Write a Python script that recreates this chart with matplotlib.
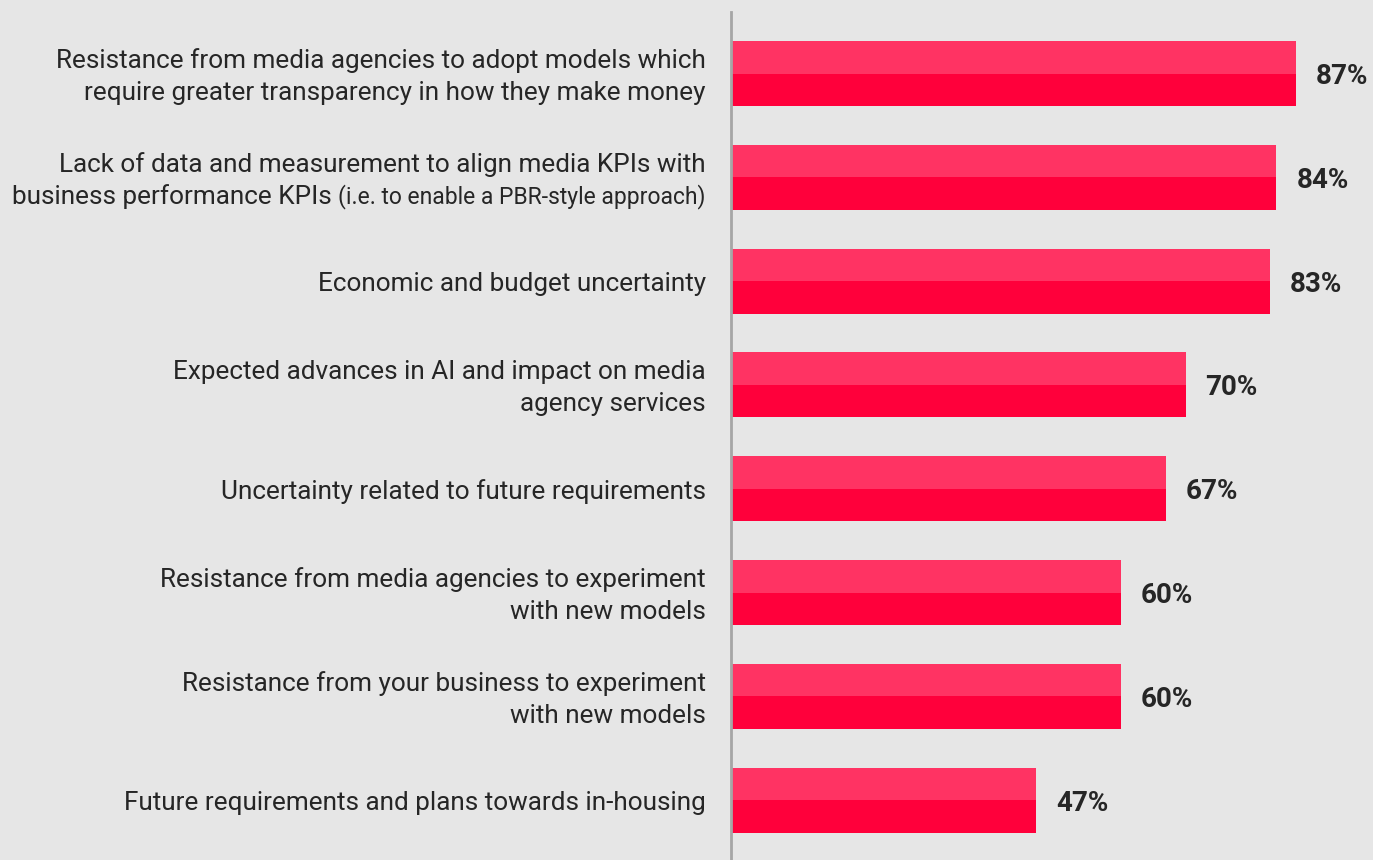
import matplotlib.pyplot as plt

# survey results: share of respondents citing each barrier
labels = [
    "Resistance from media agencies to adopt models which\nrequire greater transparency in how they make money",
    "Lack of data and measurement to align media KPIs with\nbusiness performance KPIs",
    "Economic and budget uncertainty",
    "Expected advances in AI and impact on media\nagency services",
    "Uncertainty related to future requirements",
    "Resistance from media agencies to experiment\nwith new models",
    "Resistance from your business to experiment\nwith new models",
    "Future requirements and plans towards in-housing",
]
notes = ["", "(i.e. to enable a PBR-style approach)", "", "", "", "", "", ""]
values = [87, 84, 83, 70, 67, 60, 60, 47]

bg = "#e6e6e6"
light = "#ff3363"
dark = "#ff003b"
text_col = "#262626"
font = "Roboto"
fs = 18.8

W, H = 1373, 860
fig = plt.figure(figsize=(W / 100, H / 100), dpi=100, facecolor=bg)
ax = fig.add_axes([731 / W, 0, (W - 731) / W, (H - 12) / H])
ax.set_facecolor(bg)

ypos = list(range(len(values)))
half = 0.313
ax.barh([y - half / 2 for y in ypos], values, height=half, color=light, linewidth=0)
ax.barh([y + half / 2 for y in ypos], values, height=half, color=dark, linewidth=0)

ax.set_xlim(0, (W - 731) / 6.494)
ax.set_ylim(7.577, -0.5925)

for s in ["top", "right", "bottom"]:
    ax.spines[s].set_visible(False)
ax.spines["left"].set_color("#a6a6a6")
ax.spines["left"].set_linewidth(2)
ax.set_xticks([])
ax.set_yticks([])

# value labels at the end of each bar
for y, v in zip(ypos, values):
    ax.annotate(f"{v}%", (v, y), xytext=(20, -3), textcoords="offset pixels",
                va="center", ha="left", fontsize=20, fontweight="bold",
                color=text_col, family=font)

# category labels, right aligned left of the axis
fig.canvas.draw()
renderer = fig.canvas.get_renderer()
x_right = -25
dy = -3
for y, lab, note in zip(ypos, labels, notes):
    if not note:
        ax.annotate(lab, (0, y), xytext=(x_right, dy), textcoords="offset pixels",
                    va="center", ha="right", fontsize=fs, color=text_col,
                    family=font, linespacing=1.42, annotation_clip=False)
        continue
    first, second = lab.split("\n")
    small = ax.annotate(note, (0, y), xytext=(x_right, dy - 16), textcoords="offset pixels",
                        va="center", ha="right", fontsize=16.5, color=text_col,
                        family=font, annotation_clip=False)
    bb = small.get_window_extent(renderer)
    ax.annotate(second + " ", (0, y), xytext=(x_right - bb.width, dy - 16),
                textcoords="offset pixels", va="center", ha="right",
                fontsize=fs, color=text_col, family=font, annotation_clip=False)
    ax.annotate(first, (0, y), xytext=(x_right, dy + 16), textcoords="offset pixels",
                va="center", ha="right", fontsize=fs, color=text_col,
                family=font, annotation_clip=False)

fig.savefig("out.png", dpi=100, facecolor=bg)
